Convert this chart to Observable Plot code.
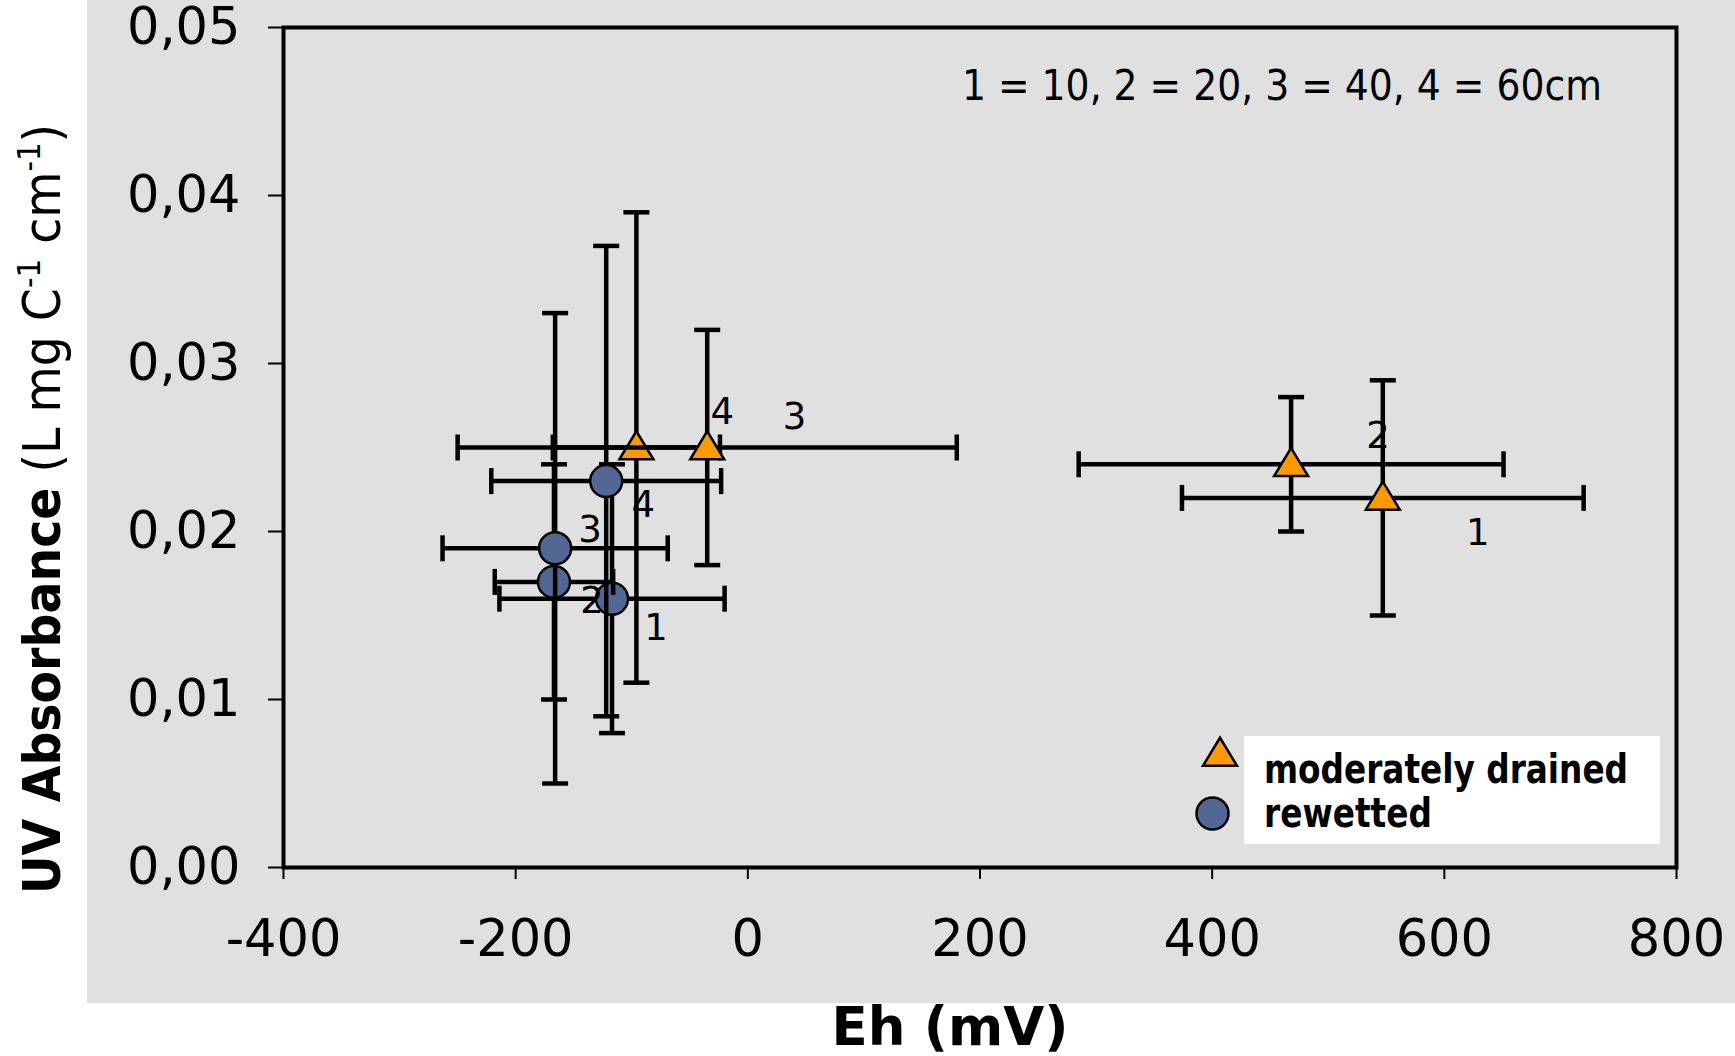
<!DOCTYPE html>
<html><head><meta charset="utf-8">
<script src="https://cdn.jsdelivr.net/npm/d3@7"></script>
<script src="https://cdn.jsdelivr.net/npm/@observablehq/plot@0.6"></script>
<style>body{margin:0;background:#fff;}</style>
</head><body><div id="chart"></div>
<script>
// ---- data ----
const seriesNames = ["moderately drained", "rewetted"];
const depthLabels = ["1", "2", "3", "4"];
const drainedEh = [547, 468, -96, -35];
const drainedEhErr = [173, 183, 72, 215];
const drainedUV = [0.022, 0.024, 0.025, 0.025];
const drainedUVErr = [0.007, 0.004, 0.014, 0.007];
const rewettedEh = [-117, -167, -166, -122];
const rewettedEhErr = [97, 51, 97, 99];
const rewettedUV = [0.016, 0.017, 0.019, 0.023];
const rewettedUVErr = [0.008, 0.007, 0.014, 0.014];
const xTicks = [-400, -200, 0, 200, 400, 600, 800];
const yTicks = [0, 0.01, 0.02, 0.03, 0.04, 0.05];
const depthNote = "1 = 10, 2 = 20, 3 = 40, 4 = 60cm";
const xTitle = "Eh (mV)";
const yTitleBold = "UV Absorbance";

// ---- styles ----
const colors = {"moderately drained": "#ff9900", "rewetted": "#536794"};
const labelOffsets = {
  "moderately drained": [[95, 35], [87, -28], [158, -30], [15, -35]],
  "rewetted": [[44, 29], [38, 19], [35, -18], [37, 24]]
};

const capH = {draw(ctx, size) { const w = Math.sqrt(size / Math.PI); ctx.moveTo(-w, 0); ctx.lineTo(w, 0); }};
const capV = {draw(ctx, size) { const w = Math.sqrt(size / Math.PI); ctx.moveTo(0, -w); ctx.lineTo(0, w); }};
const tri = {draw(ctx, size) {
  const w = Math.sqrt(size / Math.PI); const h = w * 1.65;
  ctx.moveTo(0, -0.58 * h); ctx.lineTo(w, 0.42 * h); ctx.lineTo(-w, 0.42 * h); ctx.closePath();
}};
const symbols = {"moderately drained": tri, "rewetted": d3.symbolCircle};
const symbolR = {"moderately drained": 17, "rewetted": 16};

const rows = [];
depthLabels.forEach((lab, i) => rows.push({series: seriesNames[0], depth: lab, i, eh: drainedEh[i], ehErr: drainedEhErr[i], uv: drainedUV[i], uvErr: drainedUVErr[i]}));
depthLabels.forEach((lab, i) => rows.push({series: seriesNames[1], depth: lab, i, eh: rewettedEh[i], ehErr: rewettedEhErr[i], uv: rewettedUV[i], uvErr: rewettedUVErr[i]}));

const EB = 4.5;
const marks = [Plot.frame({stroke: "black", strokeWidth: 4})];
for (const d of rows) {
  const one = [d];
  marks.push(Plot.ruleX(one, {x: "eh", y1: r => r.uv - r.uvErr, y2: r => r.uv + r.uvErr, stroke: "black", strokeWidth: EB}));
  marks.push(Plot.ruleY(one, {y: "uv", x1: r => r.eh - r.ehErr, x2: r => r.eh + r.ehErr, stroke: "black", strokeWidth: EB}));
  marks.push(Plot.dot(one, {x: "eh", y: r => r.uv - r.uvErr, symbol: capH, r: 13, fill: "none", stroke: "black", strokeWidth: EB}));
  marks.push(Plot.dot(one, {x: "eh", y: r => r.uv + r.uvErr, symbol: capH, r: 13, fill: "none", stroke: "black", strokeWidth: EB}));
  marks.push(Plot.dot(one, {x: r => r.eh - r.ehErr, y: "uv", symbol: capV, r: 13, fill: "none", stroke: "black", strokeWidth: EB}));
  marks.push(Plot.dot(one, {x: r => r.eh + r.ehErr, y: "uv", symbol: capV, r: 13, fill: "none", stroke: "black", strokeWidth: EB}));
  marks.push(Plot.dot(one, {x: "eh", y: "uv", symbol: symbols[d.series], r: symbolR[d.series], fill: colors[d.series], stroke: "black", strokeWidth: 2.5}));
}
for (const d of rows) {
  const [dx, dy] = labelOffsets[d.series][d.i];
  marks.push(Plot.text([d], {x: "eh", y: "uv", text: "depth", dx, dy, fontSize: 37, fill: "black", textAnchor: "middle", lineAnchor: "middle"}));
}
marks.push(Plot.axisX({ticks: xTicks, tickSize: 12, tickPadding: 40, tickFormat: d => String(d), label: null, fontSize: 51, strokeWidth: 2}));
marks.push(Plot.axisY({ticks: yTicks, tickSize: 15, tickPadding: 28, tickFormat: d => d.toFixed(2).replace(".", ","), label: null, fontSize: 51, strokeWidth: 2}));

const chart = Plot.plot({
  width: 1735, height: 1056,
  marginLeft: 283, marginRight: 59, marginTop: 27, marginBottom: 189,
  x: {domain: [-400, 800]},
  y: {domain: [0, 0.05]},
  style: {fontFamily: "DejaVu Sans", fontSize: "51px", background: "transparent", overflow: "visible", color: "black"},
  marks
});

const svg = d3.select(chart);
svg.insert("rect", ":first-child").attr("x", 87).attr("y", 0).attr("width", 1648).attr("height", 1003).attr("fill", "#e0e0e0");
svg.insert("rect", ":first-child").attr("x", 0).attr("y", 0).attr("width", 1735).attr("height", 1056).attr("fill", "#ffffff");

// depth note
svg.append("text").attr("x", 962).attr("y", 100).attr("text-anchor", "start").attr("font-family", "DejaVu Sans").attr("font-size", 42)
  .attr("textLength", 640).attr("lengthAdjust", "spacingAndGlyphs").text(depthNote);

// legend
const lg = svg.append("g").attr("text-anchor", "start");
lg.append("rect").attr("x", 1244).attr("y", 736).attr("width", 416).attr("height", 108).attr("fill", "white");
const legendPos = [[1220, 754, 782.7], [1212.5, 813.5, 826.7]];
seriesNames.forEach((s, k) => {
  const [sx, sy, ty] = legendPos[k];
  lg.append("path").attr("transform", `translate(${sx},${sy})`)
    .attr("d", d3.symbol(symbols[s], Math.PI * symbolR[s] * symbolR[s])())
    .attr("fill", colors[s]).attr("stroke", "black").attr("stroke-width", 2.5);
  lg.append("text").attr("x", 1264).attr("y", ty).attr("text-anchor", "start").attr("font-family", "DejaVu Sans").attr("font-weight", "bold")
    .attr("font-size", 40).attr("textLength", s === seriesNames[0] ? 364 : 168).attr("lengthAdjust", "spacingAndGlyphs").text(s);
});

// x title
svg.append("text").attr("x", 950).attr("y", 1045).attr("text-anchor", "middle").attr("font-family", "DejaVu Sans")
  .attr("font-weight", "bold").attr("font-size", 53).text(xTitle);

// y title
const yt = svg.append("text").attr("transform", "translate(60,509) rotate(-90)").attr("text-anchor", "middle")
  .attr("font-family", "DejaVu Sans").attr("font-size", 52).attr("textLength", 770).attr("lengthAdjust", "spacingAndGlyphs");
yt.append("tspan").attr("font-weight", "bold").text(yTitleBold);
yt.append("tspan").text(" (L mg C");
yt.append("tspan").attr("font-size", 32).attr("dy", -20).text("-1");
yt.append("tspan").attr("dy", 20).text(" cm");
yt.append("tspan").attr("font-size", 32).attr("dy", -20).text("-1");
yt.append("tspan").attr("dy", 20).text(")");

document.getElementById("chart").appendChild(chart);
</script>
</body></html>
